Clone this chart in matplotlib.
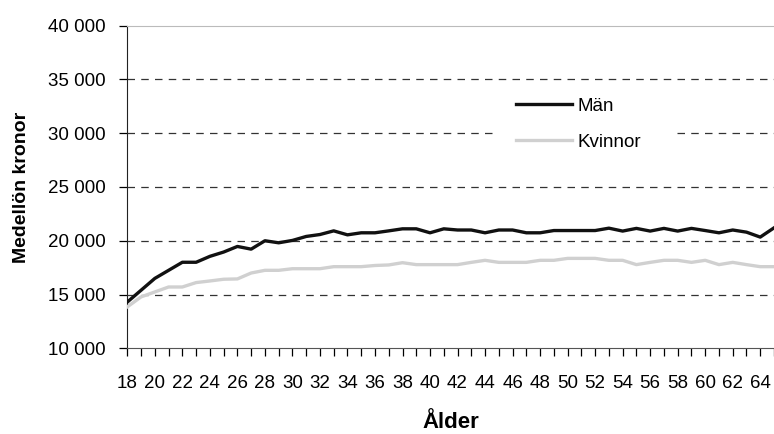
import numpy as np
import matplotlib
matplotlib.use('Agg')
import matplotlib.pyplot as plt
from matplotlib.patches import Rectangle
from matplotlib.ticker import FuncFormatter, MultipleLocator

plt.rcParams['font.family'] = ['Liberation Sans', 'DejaVu Sans']

ages = list(range(18, 66))
man = [14300, 15400, 16500, 17250, 18000, 18000, 18550, 18950, 19470, 19220,
       20000, 19810, 20030, 20400, 20580, 20920, 20550, 20740, 20740, 20920,
       21110, 21110, 20740, 21110, 21000, 21000, 20740, 21000, 21000, 20740,
       20740, 20950, 20950, 20950, 20950, 21170, 20900, 21150, 20900, 21150,
       20900, 21150, 20950, 20740, 21000, 20800, 20340, 21200]
kvinnor = [13850, 14780, 15240, 15700, 15700, 16110, 16260, 16420, 16450, 17000,
           17250, 17250, 17400, 17400, 17400, 17590, 17590, 17590, 17700, 17750,
           17960, 17780, 17780, 17780, 17780, 17990, 18180, 17990, 17990, 17990,
           18180, 18180, 18360, 18360, 18360, 18180, 18180, 17780, 17990, 18180,
           18180, 17990, 18180, 17780, 17990, 17780, 17590, 17590]

fig = plt.figure(figsize=(7.74, 4.34), dpi=100)
ax = fig.add_axes([0.1645, 0.1975, 0.8355, 0.7433])

ax.plot(ages, man, color='#111111', lw=2.4, label='Män', zorder=3)
ax.plot(ages, kvinnor, color='#d0d0d0', lw=2.4, label='Kvinnor', zorder=3)

ax.set_xlim(18, 65)
ax.set_ylim(10000, 40000)
ax.yaxis.set_major_locator(MultipleLocator(5000))
ax.yaxis.set_major_formatter(FuncFormatter(lambda v, p: f'{int(v):,}'.replace(',', ' ')))
ax.xaxis.set_major_locator(MultipleLocator(2))
ax.xaxis.set_minor_locator(MultipleLocator(1))

for v in range(15000, 40000, 5000):
    ax.axhline(v, color='#333333', lw=0.9, dashes=(6, 5), zorder=0)

# white block behind the legend hides part of the 30 000 gridline
ax.add_patch(Rectangle((0.569, 0.59), 0.273, 0.2, transform=ax.transAxes,
                       facecolor='white', edgecolor='none', zorder=1))

ax.spines['top'].set_color('#bbbbbb')
ax.spines['right'].set_visible(False)
ax.spines['left'].set_color('#222222')
ax.spines['bottom'].set_color('#555555')

ax.tick_params(axis='y', direction='out', length=5.7, width=0.9, labelsize=13.5, pad=10)
ax.tick_params(axis='x', which='major', direction='out', length=5.5, width=0.9,
               labelsize=13.5, pad=13.5)
ax.tick_params(axis='x', which='minor', direction='out', length=5.5, width=0.9,
               labelbottom=False)

ax.set_ylabel('Medellön kronor', fontsize=14, fontweight='bold')
ax.yaxis.set_label_coords(-0.1504, 0.5)
ax.set_xlabel('Ålder', fontsize=16, fontweight='bold', va='baseline')
ax.xaxis.set_label_coords(0.5, -0.247)

leg = ax.legend(loc='upper left', bbox_to_anchor=(0.584, 0.811), frameon=False,
                fontsize=13.5, handlelength=2.99, handletextpad=0.27,
                labelspacing=0.99, borderpad=0.6, borderaxespad=0)

fig.savefig('out.png', dpi=100)
